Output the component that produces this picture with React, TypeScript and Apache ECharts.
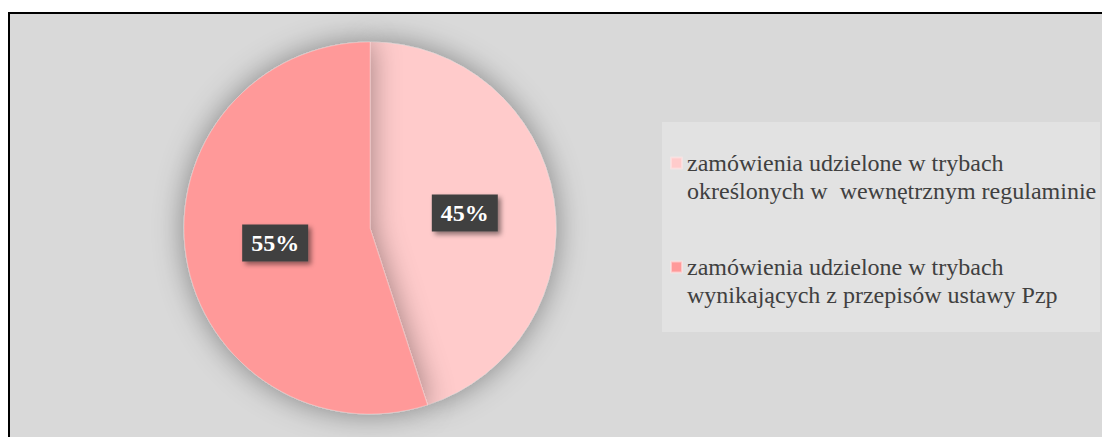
import React, { useEffect, useRef } from "react";
import * as echarts from "echarts";

const categories = [
  "zamówienia udzielone w trybach\nokreślonych w  wewnętrznym regulaminie",
  "zamówienia udzielone w trybach\nwynikających z przepisów ustawy Pzp",
];
const values = [45, 55];
const colors = ["#ffcbcb", "#ff9999"];

export default function App() {
  const ref = useRef<HTMLDivElement>(null);
  useEffect(() => {
    if (!ref.current) return;
    const chart = echarts.init(ref.current, null, { renderer: "svg" });
    chart.setOption({
      animation: false,
      backgroundColor: "#ffffff",
      graphic: [
        {
          type: "rect",
          z: 0,
          silent: true,
          shape: { x: 9, y: 13, width: 1200, height: 500 },
          style: { fill: "#d9d9d9", stroke: "#000000", lineWidth: 2 },
        },
        {
          type: "rect",
          z: 1,
          silent: true,
          shape: { x: 662, y: 122, width: 438, height: 210 },
          style: { fill: "#e2e2e2" },
        },
      ],
      legend: {
        orient: "vertical",
        left: 670,
        top: 121,
        padding: 0,
        itemGap: 20,
        itemWidth: 11,
        itemHeight: 11,
        icon: "rect",
        selectedMode: false,
        data: categories,
        formatter: (name: string) => "\u00a0\n" + name,
        textStyle: {
          fontFamily: "Liberation Serif",
          fontSize: 24,
          color: "#404040",
          lineHeight: 28,
        },
      },
      series: [
        {
          type: "pie",
          center: [370, 228],
          radius: [0, 186],
          startAngle: 90,
          clockwise: true,
          silent: true,
          z: 3,
          itemStyle: {
            shadowBlur: 30,
            shadowColor: "rgba(0,0,0,0.4)",
            borderColor: "rgba(255,230,230,0.6)",
            borderWidth: 0.5,
          },
          label: {
            show: true,
            position: "inside",
            formatter: "{c}%",
            fontFamily: "Liberation Serif",
            fontWeight: "bold",
            fontSize: 24,
            lineHeight: 27,
            color: "#ffffff",
            backgroundColor: "#404040",
            padding: [6, 9, 4, 9],
            shadowColor: "rgba(0,0,0,0.45)",
            shadowBlur: 5,
            shadowOffsetX: 3,
            shadowOffsetY: 3,
          },
          labelLine: { show: false },
          data: categories.map((name, i) => ({
            name,
            value: values[i],
            itemStyle: { color: colors[i] },
          })),
        },
      ],
    });
    return () => chart.dispose();
  }, []);
  return (
    <div
      ref={ref}
      style={{ position: "fixed", left: 0, top: 0, width: 1102, height: 437 }}
    />
  );
}
